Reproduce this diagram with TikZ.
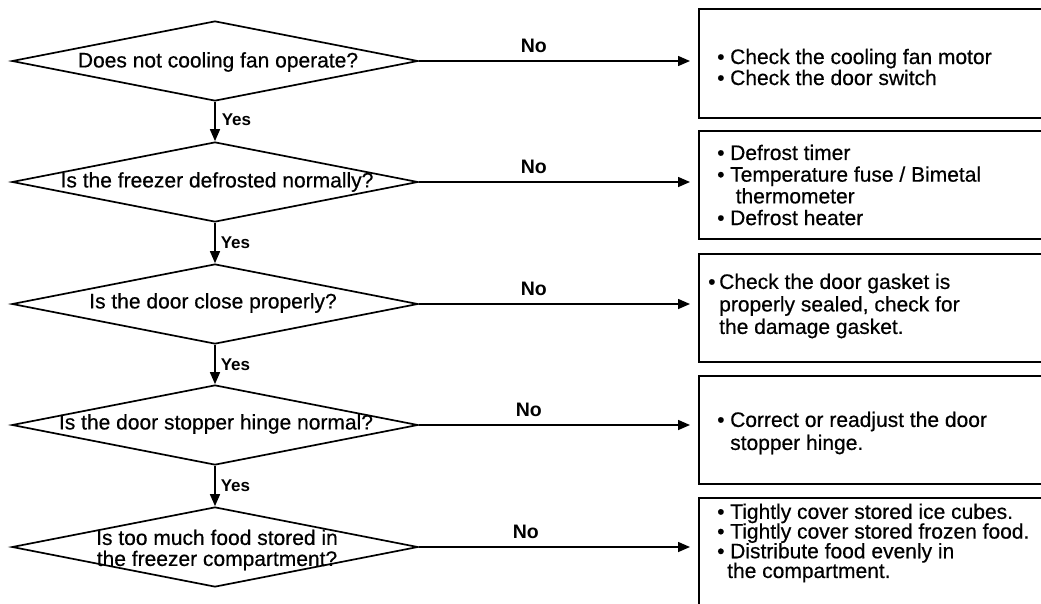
\documentclass[tikz,border=0pt]{standalone}
\usepackage{fontspec}
\setmainfont{Liberation Sans}
\newfontfamily\bodyfont{Liberation Sans}[FakeBold=0.5,BoldFeatures={FakeBold=0}]
\usetikzlibrary{shapes.geometric,arrows.meta,calc}
% bullet with a fixed-width slot
\newcommand\blt[1][13pt]{\makebox[#1][l]{\textbullet}}
\begin{document}
\begin{tikzpicture}[x=1pt,y=-1pt,
  decision/.style={draw, line width=1.7pt, diamond, minimum width=406pt,
    minimum height=80pt, inner sep=0pt},
  qtext/.style={font=\bodyfont\fontsize{21}{21}\selectfont, align=center, inner sep=0pt},
  remedy/.style={draw, line width=1.9pt, anchor=north west, minimum width=370pt,
    inner sep=0pt},
  rtext/.style={align=left, inner sep=0pt, anchor=west},
  flow/.style={line width=1.5pt, -{Triangle[length=12pt,width=10pt]}},
  yeslbl/.style={font=\bodyfont\bfseries\fontsize{17}{17}\selectfont, anchor=west, inner sep=0pt},
  nolbl/.style={font=\bodyfont\bfseries\fontsize{19.5}{19.5}\selectfont, inner sep=0pt},
]
\useasboundingbox (0,0) rectangle (1041,603);
\clip (0,0) rectangle (1041,603);
\fill[white] (0,0) rectangle (1041,603);

% decisions
\node[decision] (q1) at (215,61)  {};
\node[decision] (q2) at (215,182) {};
\node[decision] (q3) at (215,304) {};
\node[decision] (q4) at (215,425) {};
\node[decision] (q5) at (215,547) {};

\node[qtext] (t1) at (218,62)  {Does not cooling fan operate?};
\node[qtext] (t2) at (217,182) {Is the freezer defrosted normally?};
\node[qtext] (t3) at (213,303) {Is the door close properly?};
\node[qtext] (t4) at (216,424) {Is the door stopper hinge normal?};
\node[qtext] (t5) at (217,550) {Is too much food stored in\\the freezer compartment?};

% remedies
\node[remedy, minimum height=109pt] (r1) at (698,8)   {};
\node[remedy, minimum height=108pt] (r2) at (698,130) {};
\node[remedy, minimum height=108pt] (r3) at (698,253) {};
\node[remedy, minimum height=108pt] (r4) at (698,375) {};
\node[remedy, minimum height=130pt] (r5) at (698,497) {};

\node[rtext, font=\bodyfont\fontsize{21}{21}\selectfont] (s1) at (717,67)
  {\blt Check the cooling fan motor\\\blt Check the door switch};
\node[rtext, font=\bodyfont\fontsize{21}{21.7}\selectfont] (s2) at (717,185)
  {\blt Defrost timer\\\blt Temperature fuse / Bimetal\\\hspace*{18.5pt}thermometer\\\blt Defrost heater};
\node[rtext, font=\bodyfont\fontsize{21}{22.5}\selectfont] (s3) at (708,306)
  {\blt[11pt]Check the door gasket is\\\hspace*{11pt}properly sealed, check for\\\hspace*{11pt}the damage gasket.};
\node[rtext, font=\bodyfont\fontsize{21}{23}\selectfont] (s4) at (717,433)
  {\blt Correct or readjust the door\\\hspace*{13pt}stopper hinge.};
\node[rtext, font=\bodyfont\fontsize{21}{19.7}\selectfont] (s5) at (717,543)
  {\blt Tightly cover stored ice cubes.\\\blt Tightly cover stored frozen food.\\\blt Distribute food evenly in\\\hspace*{10pt}the compartment.};

% yes branches
\draw[flow] (q1.south) -- (q2.north) node[yeslbl, pos=0.45, xshift=6pt] (y1) {Yes};
\draw[flow] (q2.south) -- (q3.north) node[yeslbl, pos=0.5, xshift=5pt] (y2) {Yes};
\draw[flow] (q3.south) -- (q4.north) node[yeslbl, pos=0.5, xshift=5pt] (y3) {Yes};
\draw[flow] (q4.south) -- (q5.north) node[yeslbl, pos=0.5, xshift=5pt] (y4) {Yes};

% no branches
\foreach \i/\nx in {1/535,2/535,3/535,4/530,5/527}{
  \draw[flow, shorten >=8pt] (q\i.east) -- (q\i.east -| r\i.west);
  \node[nolbl] (n\i) at ($(q\i.east)+(\nx-420,-15)$) {No};
}
\end{tikzpicture}
\end{document}
